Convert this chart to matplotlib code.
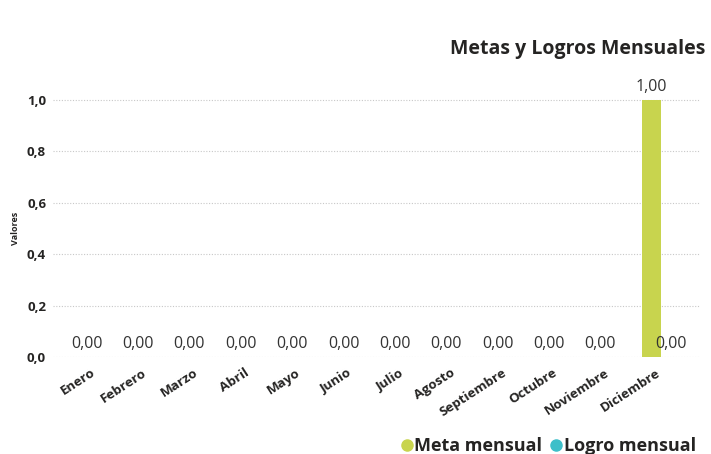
import matplotlib
matplotlib.use("Agg")
import matplotlib.pyplot as plt
from matplotlib.lines import Line2D
import matplotlib.transforms as mtransforms
import numpy as np

months = ["Enero", "Febrero", "Marzo", "Abril", "Mayo", "Junio", "Julio",
          "Agosto", "Septiembre", "Octubre", "Noviembre", "Diciembre"]
meta = [0, 0, 0, 0, 0, 0, 0, 0, 0, 0, 0, 1.0]
logro = [0, 0, 0, 0, 0, 0, 0, 0, 0, 0, 0, 0]
yticks = [0.0, 0.2, 0.4, 0.6, 0.8, 1.0]

plt.rcParams['font.family'] = ['Open Sans', 'DejaVu Sans']

c_meta = "#C8D44E"
c_logro = "#3DBFC9"
txt = "#252423"

W, H = 711, 454
fig = plt.figure(figsize=(W/100, H/100), dpi=100)
left, right = 53, 700
top, bottom = 95, 357
ax = fig.add_axes([left/W, 1-bottom/H, (right-left)/W, (bottom-top)/H])

x = np.arange(len(months))
bw = 0.378
ax.bar(x - bw/2, meta, width=bw, color=c_meta, zorder=3)
ax.bar(x + bw/2, logro, width=bw, color=c_logro, zorder=3)

ax.set_xlim(-0.845, 11.75)
ax.set_ylim(0, 1.0195)

for i in range(len(months)):
    ax.annotate(f"{meta[i]:.2f}".replace(".", ","), (x[i] - bw/2, meta[i]),
                xytext=(0, 3.5), textcoords="offset points", ha="center", va="bottom",
                fontsize=11.5, color="#333333", zorder=4)
# logro label only visible for last month (others overlap)
i = len(months) - 1
ax.annotate(f"{logro[i]:.2f}".replace(".", ","), (x[i] + bw/2, logro[i]),
            xytext=(0, 3.5), textcoords="offset points", ha="center", va="bottom",
            fontsize=11.5, color="#333333", zorder=4)

ax.set_yticks(yticks)
ax.set_yticklabels([f"{v:.1f}".replace(".", ",") for v in yticks],
                   fontsize=9.5, fontweight="bold", color=txt)
ax.set_xticks(x)
ax.tick_params(axis="x", labelbottom=False)
ax.tick_params(axis="both", length=0)
ax.tick_params(axis="y", pad=5)

offset = mtransforms.ScaledTranslation(-6/100, -9/100, fig.dpi_scale_trans)
for xi, m in zip(x, months):
    ax.text(xi, 0, m, transform=ax.get_xaxis_transform() + offset,
            rotation=33, ha="right", va="top", rotation_mode="anchor",
            fontsize=9.6, fontweight="bold", color=txt)

ax.grid(axis="y", linestyle=(0, (1, 1.5)), color="#C8C8C8", linewidth=0.8, zorder=0)
for s in ax.spines.values():
    s.set_visible(False)

fig.text(16/W, 1-228/H, "Valores", rotation=90, ha="center", va="center",
         fontsize=6.5, fontweight="bold", color=txt)

fig.text(705/W, 1-49/H, "Metas y Logros Mensuales", ha="right", va="center",
         fontsize=14, fontweight="bold", color="#252423")

handles = [Line2D([], [], marker="o", linestyle="", markersize=8, color=c_meta),
           Line2D([], [], marker="o", linestyle="", markersize=8, color=c_logro)]
leg = fig.legend(handles, ["Meta mensual", "Logro mensual"], loc="center right",
                 bbox_to_anchor=(712/W, 1-446/H), ncol=2, frameon=False,
                 handletextpad=0.0, columnspacing=0.4, handlelength=0.8,
                 prop={"weight": "bold", "size": 13})
for t in leg.get_texts():
    t.set_color(txt)

fig.savefig("out.png", dpi=100)
